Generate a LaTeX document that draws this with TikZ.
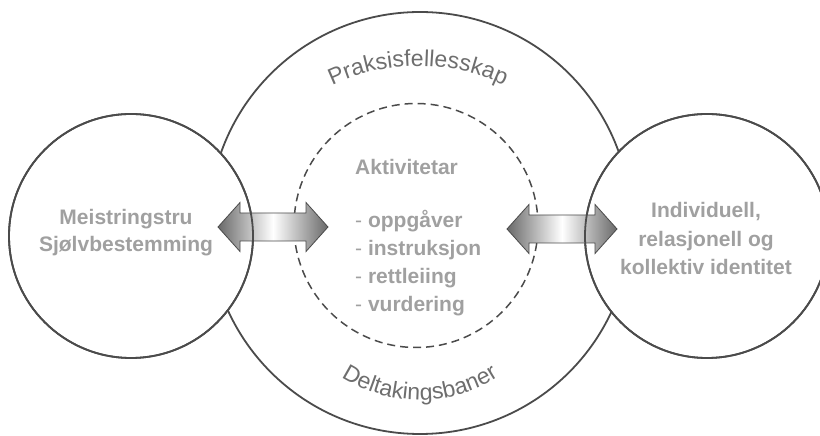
\documentclass[tikz,border=0pt]{standalone}
\usepackage{fontspec}
\setmainfont{Liberation Sans}
\usetikzlibrary{decorations.text}
\definecolor{linec}{RGB}{75,75,75}
\definecolor{txtc}{RGB}{160,160,160}
\definecolor{arcc}{RGB}{110,110,110}
\definecolor{arrowdark}{RGB}{105,105,105}
\begin{document}
\begin{tikzpicture}[x=1pt,y=1pt,
  ring/.style={circle, draw=linec, line width=1.8pt, inner sep=0pt},
  dashring/.style={circle, draw=linec, line width=1.5pt, dash pattern=on 8pt off 5pt, inner sep=0pt},
  bigtxt/.style={text=txtc, inner sep=0pt, font=\bfseries\fontsize{21}{28}\selectfont},
  dblarrow/.style={draw=linec, line width=0.8pt, left color=arrowdark, right color=arrowdark, middle color=white}
]
\useasboundingbox (0,0) rectangle (820,436);
\clip (0,0) rectangle (820,436);
% circles
\node[ring, minimum size=422pt] (big) at (420,213) {};
\node[ring, fill=white, minimum size=244pt] (left) at (131,200) {};
\node[ring, fill=white, minimum size=244pt] (right) at (707,200) {};
\node[dashring, minimum size=244pt] (act) at (416,210.5) {};
% arrows
\coordinate (la) at (273,209);
\coordinate (ra) at (562,207);
\foreach \c in {la,ra}{
  \draw[dblarrow, shift={(\c)}] (-55,0) -- (-33,24.5) -- (-33,14) -- (33,14) -- (33,24.5) -- (55,0)
     -- (33,-24.5) -- (33,-14) -- (-33,-14) -- (-33,-24.5) -- cycle;
}
% side circle outlines on top of arrows
\draw[draw=linec, line width=1.8pt] (left.center) circle (122pt);
\draw[draw=linec, line width=1.8pt] (right.center) circle (122pt);
% curved labels
\path[decorate, decoration={text along path, text align=center, text color=arcc,
  text={|\fontsize{23}{23}\selectfont|Praksisfellesskap}}]
  (418,170) ++(120:200) arc[start angle=120, end angle=60, radius=200];
\path[decorate, decoration={text along path, text align=center, text color=arcc,
  text={|\fontsize{23}{23}\selectfont|Deltakingsbaner}}]
  (420,181) ++(225:145) arc[start angle=225, end angle=315, radius=145];
% texts (multi-line nodes: base = last line)
\node[bigtxt, align=center, anchor=base, font=\bfseries\fontsize{21}{27}\selectfont] (lefttext) at (126,184) {Meistringstru\\Sjølvbestemming};
\node[bigtxt, align=center, anchor=base, font=\bfseries\fontsize{21}{28.5}\selectfont] (righttext) at (706,161) {Individuell,\\relasjonell og\\kollektiv identitet};
\node[bigtxt, anchor=base west] (acttitle) at (355,261) {Aktivitetar};
\node[bigtxt, anchor=base west, align=left, font=\fontsize{21}{28.3}\selectfont] (actlist) at (355,124)
  {- \textbf{oppgåver}\\- \textbf{instruksjon}\\- \textbf{rettleiing}\\- \textbf{vurdering}};
\end{tikzpicture}
\end{document}
